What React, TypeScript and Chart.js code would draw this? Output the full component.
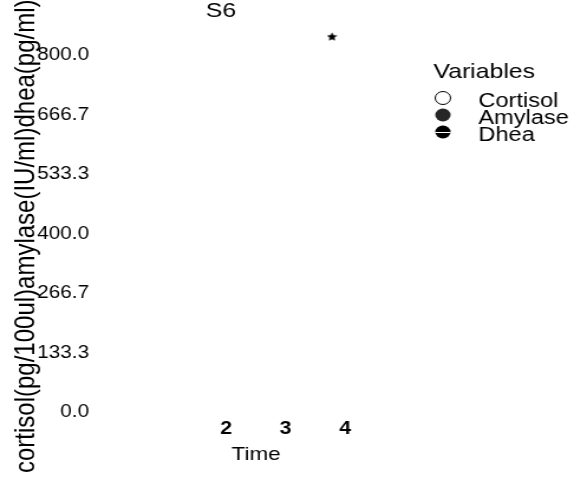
import { useEffect, useRef } from "react";
import { Chart, registerables } from "chart.js";

Chart.register(...registerables);

// ---- data ----
const timePoints = [2, 3, 4];
const cortisol: (number | null)[] = [null, null, null];
const amylase: (number | null)[] = [null, null, null];
const dhea: (number | null)[] = [null, null, null];
const seriesLabels = ["Cortisol", "Amylase", "Dhea"];
const yTickValues = [0, 133.3, 266.7, 400, 533.3, 666.7, 800];
const xTickValues = [2, 3, 4];
const sigX = [3.78];
const sigY = [843];
const chartTitle = "S6";
const yTitle = "cortisol(pg/100ul)amylase(IU/ml)dhea(pg/ml)";
const xTitle = "Time";
const legendTitle = "Variables";

// drawing surface is rendered narrower and stretched horizontally (as in the reference)
const PX_W = 486;
const PX_H = 483;
const FONT = '"Liberation Sans", Arial, sans-serif';

function makeStar(size: number) {
  const c = document.createElement("canvas");
  c.width = size;
  c.height = size;
  const g = c.getContext("2d")!;
  g.fillStyle = "#000";
  g.beginPath();
  const cx = size / 2, cy = size / 2 + 0.5, ro = size / 2, ri = ro * 0.48;
  for (let i = 0; i < 10; i++) {
    const r = i % 2 ? ri : ro;
    const a = -Math.PI / 2 + (i * Math.PI) / 5;
    const x = cx + r * Math.cos(a), y = cy + r * Math.sin(a);
    if (i) g.lineTo(x, y); else g.moveTo(x, y);
  }
  g.closePath();
  g.fill();
  return c;
}

function drawMarker(ctx: CanvasRenderingContext2D, kind: number, x: number, y: number, r: number) {
  ctx.save();
  ctx.beginPath();
  ctx.arc(x, y, r, 0, Math.PI * 2);
  if (kind === 0) {
    ctx.fillStyle = "#fff";
    ctx.fill();
    ctx.lineWidth = 1;
    ctx.strokeStyle = "#000";
    ctx.stroke();
  } else if (kind === 1) {
    ctx.fillStyle = "#262626";
    ctx.fill();
  } else {
    ctx.fillStyle = "#000";
    ctx.fill();
    ctx.strokeStyle = "#fff";
    ctx.lineWidth = 1;
    ctx.beginPath();
    ctx.moveTo(x - r, y + 0.5);
    ctx.lineTo(x + r, y + 0.5);
    ctx.stroke();
  }
  ctx.restore();
}

const overlay = {
  id: "overlay",
  afterDraw(chart: any) {
    const ctx: CanvasRenderingContext2D = chart.ctx;
    ctx.save();
    ctx.fillStyle = "#000";
    // chart title
    ctx.font = `21px ${FONT}`;
    ctx.textAlign = "center";
    ctx.textBaseline = "alphabetic";
    ctx.fillText(chartTitle, 187, 17);
    // y-axis title
    ctx.save();
    ctx.translate(29, 473);
    ctx.rotate(-Math.PI / 2);
    ctx.font = `24px ${FONT}`;
    ctx.textAlign = "left";
    ctx.fillText(yTitle, 0, 0);
    ctx.restore();
    // legend
    ctx.textAlign = "left";
    ctx.font = `21px ${FONT}`;
    ctx.fillText(legendTitle, 367, 78);
    ctx.font = `20px ${FONT}`;
    const labels = chart.data.datasets
      .map((d: any) => d.label)
      .filter((l: string) => seriesLabels.includes(l));
    labels.forEach((l: string, i: number) => {
      const cy = 98 + i * 17;
      drawMarker(ctx, i, 375, cy, 6.5);
      ctx.fillStyle = "#000";
      ctx.fillText(l, 405, cy + 9);
    });
    ctx.restore();
  },
};

export default function App() {
  const ref = useRef<HTMLCanvasElement | null>(null);
  useEffect(() => {
    if (!ref.current) return;
    const star = makeStar(9);
    const mk = (vals: (number | null)[]) => timePoints.map((t, i) => ({ x: t, y: vals[i] }));
    const chart = new Chart(ref.current, {
      type: "scatter",
      data: {
        datasets: [
          { label: seriesLabels[0], data: mk(cortisol) as any, pointStyle: "circle", pointRadius: 6.5, backgroundColor: "#fff", borderColor: "#000" },
          { label: seriesLabels[1], data: mk(amylase) as any, pointStyle: "circle", pointRadius: 6.5, backgroundColor: "#262626", borderColor: "#262626" },
          { label: seriesLabels[2], data: mk(dhea) as any, pointStyle: "circle", pointRadius: 6.5, backgroundColor: "#000", borderColor: "#000" },
          { label: "sig", data: sigX.map((x, i) => ({ x, y: sigY[i] })), pointStyle: star as any, pointRadius: 5, clip: false as any },
        ],
      },
      options: {
        animation: false,
        responsive: false,
        layout: { padding: { left: 27.6, right: 131.8, top: 20, bottom: 13 } },
        plugins: { legend: { display: false }, title: { display: false }, tooltip: { enabled: false } },
        scales: {
          x: {
            type: "linear",
            min: -0.222,
            max: 5.23,
            grid: { display: false, drawTicks: false },
            border: { display: false },
            afterBuildTicks: (axis: any) => { axis.ticks = xTickValues.map((v) => ({ value: v })); },
            ticks: { autoSkip: false, color: "#000", padding: 3, font: { family: FONT, size: 18, weight: "bold" }, callback: (v: any) => String(v) },
            title: { display: true, text: xTitle, color: "#000", padding: { top: 0, bottom: 4 }, font: { family: FONT, size: 19 } },
          },
          y: {
            type: "linear",
            min: -6.72,
            max: 879.8,
            grid: { display: false, drawTicks: false },
            border: { display: false },
            afterBuildTicks: (axis: any) => { axis.ticks = yTickValues.map((v) => ({ value: v })); },
            ticks: { autoSkip: false, color: "#000", padding: 4, font: { family: FONT, size: 17.5 }, callback: (v: any) => Number(v).toFixed(1) },
          },
        },
      },
      plugins: [overlay],
    });
    return () => chart.destroy();
  }, []);
  return (
    <div style={{ position: "fixed", left: 0, top: 0, width: 574, height: 483, background: "#fff" }}>
      <canvas ref={ref} width={PX_W} height={PX_H} style={{ display: "block", width: "574px", height: "483px" }} />
    </div>
  );
}
